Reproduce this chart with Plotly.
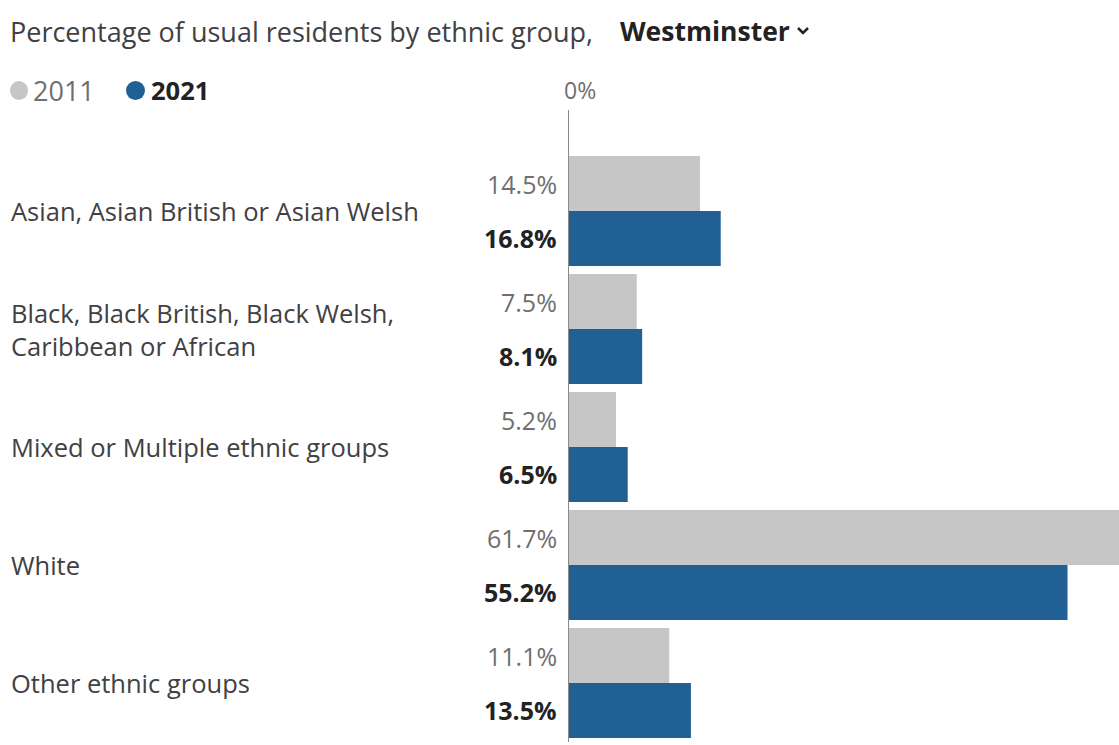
import plotly.graph_objects as go

# Data
categories = [
    "Asian, Asian British or Asian Welsh",
    "Black, Black British, Black Welsh,<br>Caribbean or African",
    "Mixed or Multiple ethnic groups",
    "White",
    "Other ethnic groups",
]
values_2011 = [14.5, 7.5, 5.2, 61.7, 11.1]
values_2021 = [16.8, 8.1, 6.5, 55.2, 13.5]
years = ["2011", "2021"]
title_text = "Percentage of usual residents by ethnic group,"
area_name = "Westminster"

W, H = 1119, 745
GREY = "#c6c6c6"
BLUE = "#206095"
TEXT = "#414042"
MUTED = "#6f6f6f"
DARK = "#222222"
FONT = "Open Sans"

# plot area in pixels
x_left = 569
y_top, y_bottom = 110, 742


def px(x):
    return x / W


def py(y):
    return 1 - y / H


fig = go.Figure()
fig.add_trace(go.Bar(
    y=categories, x=values_2011, name=years[0], orientation="h",
    marker=dict(color=GREY, line=dict(width=0)), hoverinfo="skip",
))
fig.add_trace(go.Bar(
    y=categories, x=values_2021, name=years[1], orientation="h",
    marker=dict(color=BLUE, line=dict(width=0)), hoverinfo="skip",
))

annotations = []
# category labels on the left
for cat in categories:
    annotations.append(dict(
        x=px(9), xref="paper", xanchor="left",
        y=cat, yref="y", yanchor="middle",
        text=cat, showarrow=False, align="left",
        font=dict(family=FONT, size=25.5, color=TEXT),
    ))
# value labels next to the axis
for cat, v11, v21 in zip(categories, values_2011, values_2021):
    annotations.append(dict(
        x=0, xref="x", xanchor="right", xshift=-10,
        y=cat, yref="y", yanchor="middle", yshift=27,
        text=f"{v11:.1f}%", showarrow=False,
        font=dict(family=FONT, size=25, color=MUTED),
    ))
    annotations.append(dict(
        x=0, xref="x", xanchor="right", xshift=-10,
        y=cat, yref="y", yanchor="middle", yshift=-27,
        text=f"<b>{v21:.1f}%</b>", showarrow=False,
        font=dict(family=FONT, size=25, color=DARK),
    ))

# title line with the area selector
annotations.append(dict(
    x=px(8), xref="paper", xanchor="left",
    y=py(31), yref="paper", yanchor="middle",
    text=title_text, showarrow=False,
    font=dict(family=FONT, size=27, color=TEXT),
))
annotations.append(dict(
    x=px(618), xref="paper", xanchor="left",
    y=py(31), yref="paper", yanchor="middle",
    text=f"<b>{area_name}</b>", showarrow=False,
    font=dict(family=FONT, size=26.5, color=DARK),
))
# legend
annotations.append(dict(
    x=px(31), xref="paper", xanchor="left",
    y=py(90), yref="paper", yanchor="middle",
    text=years[0], showarrow=False,
    font=dict(family=FONT, size=27, color=MUTED),
))
annotations.append(dict(
    x=px(149), xref="paper", xanchor="left",
    y=py(90), yref="paper", yanchor="middle",
    text=f"<b>{years[1]}</b>", showarrow=False,
    font=dict(family=FONT, size=25.5, color=DARK),
))
# axis label
annotations.append(dict(
    x=0, xref="x", xanchor="center", xshift=11,
    y=py(90), yref="paper", yanchor="middle",
    text="0%", showarrow=False,
    font=dict(family=FONT, size=23, color=MUTED),
))

shapes = [
    dict(type="circle", xref="paper", yref="paper", line=dict(width=0), fillcolor=GREY,
         x0=px(10), x1=px(28), y0=py(100), y1=py(81)),
    dict(type="circle", xref="paper", yref="paper", line=dict(width=0), fillcolor=BLUE,
         x0=px(126), x1=px(145), y0=py(100), y1=py(81)),
    # dropdown chevron after the area name
    dict(type="path", xref="paper", yref="paper",
         path=f"M {px(798)} {py(28)} L {px(803)} {py(33)} L {px(808)} {py(28)}",
         line=dict(color=DARK, width=2.5)),
]

fig.update_layout(
    width=W, height=H,
    margin=dict(l=0, r=0, t=0, b=0),
    paper_bgcolor="white", plot_bgcolor="white",
    barmode="group", bargap=0.068, bargroupgap=0,
    showlegend=False,
    xaxis=dict(domain=[px(x_left), 1], range=[0, 60.9], showgrid=False,
               zeroline=False, showticklabels=False, ticks="", showline=False),
    yaxis=dict(domain=[py(y_bottom), py(y_top)], range=[4.5, -0.856],
               showgrid=False, zeroline=False, showticklabels=False, ticks="",
               showline=True, linecolor="#8a8a8a", linewidth=1),
    annotations=annotations,
    shapes=shapes,
)

fig.write_html("out.html")
